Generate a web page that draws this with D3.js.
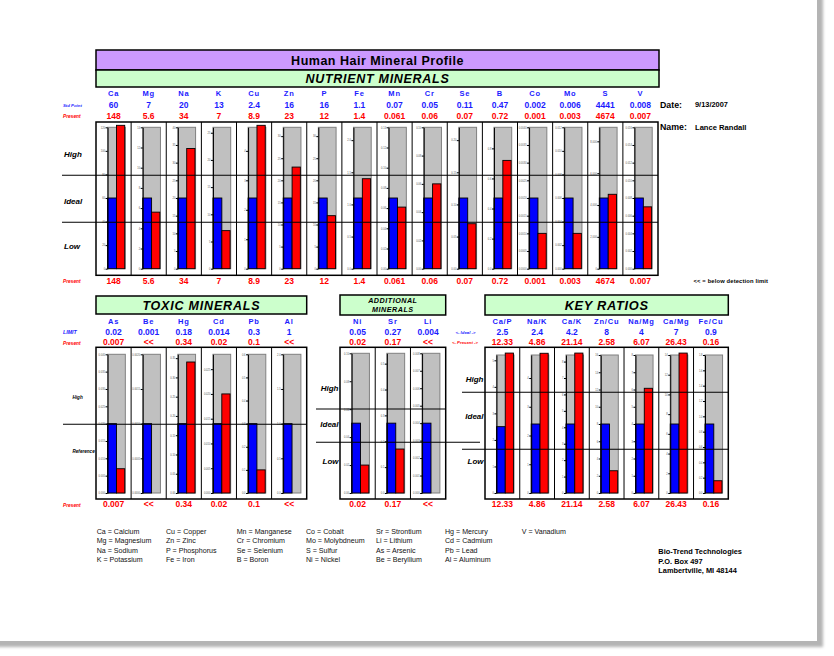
<!DOCTYPE html>
<html><head><meta charset="utf-8">
<script src="https://cdn.jsdelivr.net/npm/d3@7"></script>
<style>body{margin:0;background:#fff}svg{display:block;font-family:"Liberation Sans",Arial,Helvetica,sans-serif}</style>
</head><body><svg id="c" width="834" height="656"></svg>
<script>
// ---------- DATA ----------
const nutrientLabels  = ["Ca","Mg","Na","K","Cu","Zn","P","Fe","Mn","Cr","Se","B","Co","Mo","S","V"];
const nutrientIdeal   = [60,7,20,13,2.4,16,16,1.1,0.07,0.05,0.11,0.47,0.002,0.006,4441,0.008];
const nutrientPresent = [148,5.6,34,7,8.9,23,12,1.4,0.061,0.06,0.07,0.72,0.001,0.003,4674,0.007];

const toxicLabels  = ["As","Be","Hg","Cd","Pb","Al"];
const toxicLimit   = [0.02,0.001,0.18,0.014,0.3,1];
const toxicPresent = [0.007,null,0.34,0.02,0.1,null];   // null = below detection limit

const additionalLabels  = ["Ni","Sr","Li"];
const additionalIdeal   = [0.05,0.27,0.004];
const additionalPresent = [0.02,0.17,null];

const ratioLabels   = ["Ca/P","Na/K","Ca/K","Zn/Cu","Na/Mg","Ca/Mg","Fe/Cu"];
const ratioIdeal    = [2.5,2.4,4.2,8,4,7,0.9];
const ratioPresent  = [12.33,4.86,21.14,2.58,6.07,26.43,0.16];
const ratioScaleMax = [5.2,4.8,8.4,16,8,14,1.8];

const legendColumns = [
  ["Ca = Calcium","Mg = Magnesium","Na = Sodium","K = Potassium"],
  ["Cu = Copper","Zn = Zinc","P = Phosphorus","Fe = Iron"],
  ["Mn = Manganese","Cr = Chromium","Se = Selenium","B = Boron"],
  ["Co = Cobalt","Mo = Molybdneum","S = Sulfur","Ni = Nickel"],
  ["Sr = Strontium","Li = Lithium","As = Arsenic","Be = Beryllium"],
  ["Hg = Mercury","Cd = Cadmium","Pb = Lead","Al = Aluminum"],
  ["V = Vanadium"]
];
const addressLines = ["Bio-Trend Technologies","P.O. Box 497","Lambertville, MI  48144"];
const reportDate = "9/13/2007";
const clientName = "Lance Randall";

// ---------- DRAW ----------
const BLUE = "#1c1cff", RED = "#ff0000";
const svg = d3.select("#c");
const defs = svg.append("defs");
const f = defs.append("filter").attr("id","sh").attr("x","-5%").attr("y","-5%").attr("width","112%").attr("height","112%");
f.append("feDropShadow").attr("dx",6).attr("dy",6).attr("stdDeviation",1.8).attr("flood-color","#b4b4b4").attr("flood-opacity",1);
svg.append("rect").attr("x",-10).attr("y",-10).attr("width",827).attr("height",651).attr("fill","#fff").attr("filter","url(#sh)");

function txt(x,y,s,o={}){
  const t = svg.append("text").attr("x",x).attr("y",y).text(s)
    .attr("text-anchor",o.anchor||"start").attr("fill",o.fill||"#000")
    .style("font-size",(o.size||8)+"px").style("font-weight",o.bold===false?"normal":"bold");
  if(o.italic) t.style("font-style","italic");
  if(o.ls) t.style("letter-spacing",o.ls+"px");
  return t;
}
function banner(x0,x1,y0,y1,fill,lines,size,italic,ls){
  svg.append("rect").attr("x",x0).attr("y",y0).attr("width",x1-x0).attr("height",y1-y0)
    .attr("fill",fill).attr("stroke","#000").attr("stroke-width",1.5);
  const n = lines.length, lh = size*1.15, cy=(y0+y1)/2;
  lines.forEach((l,i)=>txt((x0+x1)/2, cy + (i-(n-1)/2)*lh + size*0.36, l, {anchor:"middle",size,italic,ls}));
}
const fmt = v => v==null ? "<<" : String(v);

function panel(o){
  const x = d3.scaleBand().domain(o.labels).range([o.x0,o.x1]);
  const bw = x.bandwidth();
  const cx = d => x(d)+bw/2;
  o.labels.forEach((lab,i)=>{
    txt(cx(lab), o.hy, lab, {anchor:"middle", size:7.5, fill:BLUE, ls:0.8});
    txt(cx(lab), o.vy, fmt(o.ideal[i]), {anchor:"middle", size:8.5, fill:BLUE});
    txt(cx(lab), o.py, fmt(o.present[i]), {anchor:"middle", size:8.5, fill:RED});
    txt(cx(lab), o.by, fmt(o.present[i]), {anchor:"middle", size:8.5, fill:RED});
  });
  svg.append("rect").attr("x",o.x0).attr("y",o.top).attr("width",o.x1-o.x0).attr("height",o.bottom-o.top)
    .attr("fill","#fff").attr("stroke","none");
  o.labels.forEach((lab,i)=>{
    const max = o.max ? o.max[i] : 2*o.ideal[i];
    const y = d3.scaleLinear().domain([0,max]).range([o.zero,o.gtop]);
    const ax = x(lab)+bw*0.33, gr = x(lab)+bw*0.835, half=(gr-ax)/2;
    svg.append("rect").attr("x",ax).attr("y",y(max)).attr("width",gr-ax).attr("height",y(0)-y(max))
      .attr("fill","#c0c0c0").attr("stroke","#808080").attr("stroke-width",1);
    svg.append("rect").attr("x",ax).attr("y",y(o.ideal[i])).attr("width",half).attr("height",y(0)-y(o.ideal[i]))
      .attr("fill","#0000ff").attr("stroke","#000").attr("stroke-width",0.9);
    if(o.present[i]!=null){
      const v = Math.min(o.present[i], max*1.014);
      svg.append("rect").attr("x",ax+half).attr("y",y(v)).attr("width",half-0.6).attr("height",y(0)-y(v))
        .attr("fill","#ff0000").attr("stroke","#000").attr("stroke-width",0.9);
    }
    const a = svg.append("g").attr("transform",`translate(${ax},0)`)
      .call(d3.axisLeft(y).ticks(6).tickSize(2).tickSizeOuter(0));
    a.attr("font-size",2.6).attr("font-family","Liberation Sans, Arial");
    a.selectAll("text").attr("fill","#555").attr("x",-2.5);
    a.select(".domain").attr("stroke","#000").attr("stroke-width",1);
  });
  o.labels.slice(1).forEach(lab=>{
    svg.append("line").attr("x1",x(lab)).attr("x2",x(lab)).attr("y1",o.top).attr("y2",o.bottom)
      .attr("stroke","#000").attr("stroke-width",1);
  });
  svg.append("rect").attr("x",o.x0).attr("y",o.top).attr("width",o.x1-o.x0).attr("height",o.bottom-o.top)
    .attr("fill","none").attr("stroke","#000").attr("stroke-width",1.5);
}
function hline(x1,x2,y){
  svg.append("line").attr("x1",x1).attr("x2",x2).attr("y1",y).attr("y2",y).attr("stroke","#000").attr("stroke-width",1.1);
}

// Title banners
banner(96,659,50,70,"#cc99ff",["Human Hair Mineral Profile"],12.5,false,0.5);
banner(96,659,70,87,"#ccffcc",["NUTRIENT MINERALS"],12.5,true,0.7);

// Nutrients
panel({labels:nutrientLabels, ideal:nutrientIdeal, present:nutrientPresent,
  x0:96, x1:658, top:122, bottom:275.3, gtop:127.3, zero:268.7, hy:95.5, vy:107.7, py:118.5, by:283.5});
txt(63,107.2,"Std Point",{size:4.3,fill:BLUE,italic:true});
txt(63,118.2,"Present",{size:4.8,fill:RED,italic:true});
txt(63,283.2,"Present",{size:4.8,fill:RED,italic:true});
hline(62,658,175.3); hline(62,658,222.3);
txt(64,157,"High",{size:8,italic:true});
txt(64,204,"Ideal",{size:8,italic:true});
txt(64,248.5,"Low",{size:8,italic:true});

txt(660,107.5,"Date:",{size:8.8});
txt(695,107.3,reportDate,{size:7.4});
txt(660,130,"Name:",{size:8.8});
txt(695,129.8,clientName,{size:7.6});
txt(693.5,283,"<< = below detection limit",{size:5.8,ls:0.15});

// Toxic
banner(96,306.7,296,314,"#ccffcc",["TOXIC MINERALS"],12.5,true,0.8);
panel({labels:toxicLabels, ideal:toxicLimit, present:toxicPresent,
  x0:96, x1:306.7, top:347.3, bottom:499, gtop:354.3, zero:493, hy:323.5, vy:334.5, py:345, by:507});
txt(63,334.2,"LIMIT",{size:5.3,fill:BLUE,italic:true});
txt(63,344.6,"Present",{size:4.8,fill:RED,italic:true});
txt(63,506.8,"Present",{size:4.8,fill:RED,italic:true});
hline(63,306.7,424.3);
txt(72.5,399,"High",{size:4.6,italic:true});
txt(72.5,453,"Reference",{size:4.6,italic:true});

// Additional
banner(340,445.7,295,315,"#ccffcc",["ADDITIONAL","MINERALS"],7.2,true,0.5);
panel({labels:additionalLabels, ideal:additionalIdeal, present:additionalPresent,
  x0:340, x1:445.7, top:347.3, bottom:499, gtop:353.3, zero:493, hy:323.5, vy:334.5, py:345, by:507});
hline(316,445.7,409); hline(316,480,442.3);
txt(338.5,391.3,"High",{size:8,italic:true,anchor:"end"});
txt(338.5,427,"Ideal",{size:8,italic:true,anchor:"end"});
txt(338.5,463.5,"Low",{size:8,italic:true,anchor:"end"});
txt(465.5,334,"<- Ideal ->",{size:4.3,fill:BLUE,italic:true,anchor:"middle"});
txt(465,344.4,"<- Present ->",{size:4.3,fill:RED,italic:true,anchor:"middle"});

// Key ratios
banner(485,728.3,295,315,"#ccffcc",["KEY RATIOS"],12.8,true,0.7);
panel({labels:ratioLabels, ideal:ratioIdeal, present:ratioPresent, max:ratioScaleMax,
  x0:485, x1:728.3, top:347.3, bottom:499, gtop:355, zero:493, hy:323.5, vy:334.5, py:345, by:507});
hline(462,728.3,392.3); hline(462,728.3,449.3);
txt(483.5,382,"High",{size:8,italic:true,anchor:"end"});
txt(483.5,418.5,"Ideal",{size:8,italic:true,anchor:"end"});
txt(483.5,463.5,"Low",{size:8,italic:true,anchor:"end"});

// Legend
const legendX = [96.7,166,236.7,306,376,445,521.7];
legendColumns.forEach((col,ci)=>col.forEach((s,ri)=>
  txt(legendX[ci], 534.2+ri*9.2, s, {size:7.1, bold:false, fill:"#111"})));
addressLines.forEach((s,i)=>txt(658.3, 553.6+i*9.9, s, {size:7.4}));
</script></body></html>
